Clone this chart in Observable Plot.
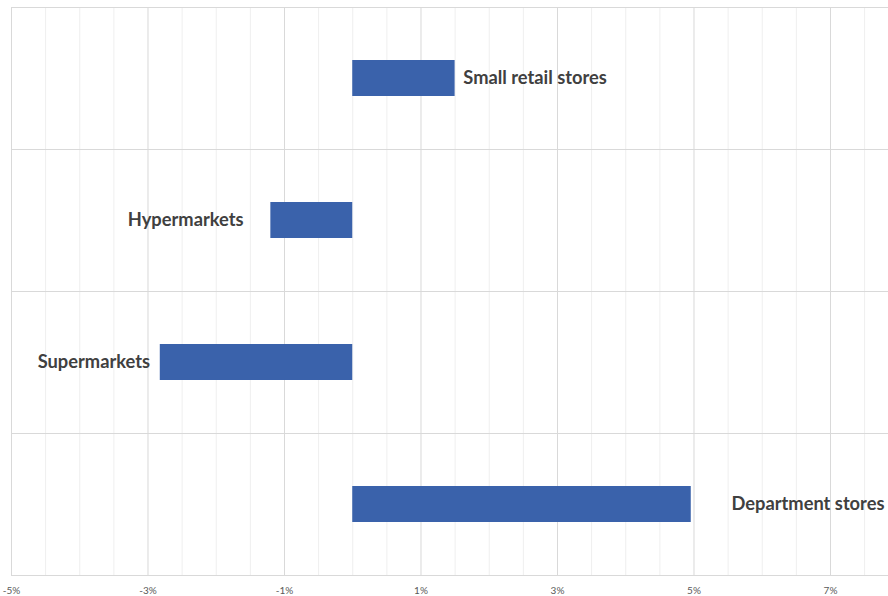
<!DOCTYPE html>
<html>
<head>
<meta charset="utf-8">
<script src="https://cdn.jsdelivr.net/npm/d3@7"></script>
<script src="https://cdn.jsdelivr.net/npm/@observablehq/plot@0.6"></script>
<style>
html, body { margin: 0; padding: 0; background: #fff; }
#chart svg { display: block; }
</style>
</head>
<body>
<div id="chart"></div>
<script>
// Data
const categories = ["Small retail stores", "Hypermarkets", "Supermarkets", "Department stores"];
const values = [1.5, -1.2, -2.82, 4.96];        // % change
const labelX = [1.62, -1.6, -2.97, 5.55];       // label anchor, in % units
const tickValues = [-5, -3, -1, 1, 3, 5, 7];

const data = categories.map((c, i) => ({ cat: c, value: values[i], lx: labelX[i] }));

const W = 888, H = 596;
const mTop = 7, mBottom = 21, mLeft = 11, mRight = 0;
const step = (H - mTop - mBottom) / categories.length;

const minor = d3.range(-5, 8, 0.5).filter(v => !tickValues.includes(v));

const labelStyle = { fontWeight: "bold", fontSize: 18.3, fill: "#404040", wordSpacing: 2 };

const chart = Plot.plot({
  width: W,
  height: H,
  marginTop: mTop,
  marginBottom: mBottom,
  marginLeft: mLeft,
  marginRight: mRight,
  style: { fontFamily: "Lato, 'Open Sans', sans-serif", background: "#fff" },
  x: { domain: [-5, 7.85], label: null },
  y: { domain: categories, paddingInner: 0.75, paddingOuter: 0.375, axis: null, label: null },
  marks: [
    Plot.ruleX(minor, { stroke: "#efefef", strokeWidth: 1 }),
    Plot.ruleX(tickValues, { stroke: "#d9d9d9", strokeWidth: 1 }),
    Plot.ruleX([-5], { stroke: "#d9d9d9", strokeWidth: 1 }),
    Plot.ruleY(categories, { y: d => d, dy: -step / 2, stroke: "#d9d9d9" }),
    Plot.ruleY(categories.slice(-1), { y: d => d, dy: step / 2, stroke: "#d9d9d9" }),
    Plot.barX(data, { y: "cat", x1: 0, x2: "value", fill: "#3a62ab" }),
    Plot.text(data.filter(d => d.value >= 0), {
      y: "cat", x: "lx", text: "cat", textAnchor: "start", ...labelStyle
    }),
    Plot.text(data.filter(d => d.value < 0), {
      y: "cat", x: "lx", text: "cat", textAnchor: "end", ...labelStyle
    }),
    Plot.axisX({
      ticks: tickValues,
      tickFormat: d => d + "%",
      tickSize: 0,
      tickPadding: 11,
      fontSize: 10,
      color: "#595959",
      label: null
    })
  ]
});

document.getElementById("chart").appendChild(chart);
</script>
</body>
</html>
